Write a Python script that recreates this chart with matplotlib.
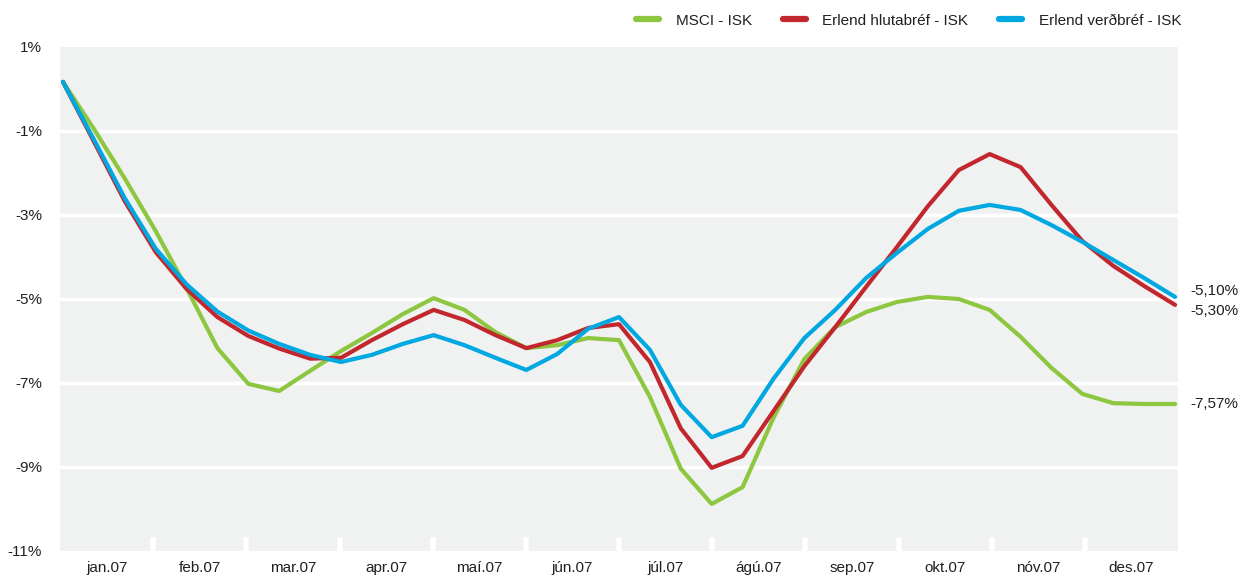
import matplotlib
matplotlib.use('Agg')
import numpy as np
import matplotlib.pyplot as plt

# time in months from start of year, every third of a month
months = np.arange(37) / 3.0

msci = [0.17, -0.95, -2.13, -3.38, -4.74, -6.17, -7.02, -7.19, -6.71, -6.24,
        -5.81, -5.36, -4.98, -5.26, -5.79, -6.17, -6.10, -5.93, -5.98, -7.33,
        -9.04, -9.88, -9.48, -7.83, -6.43, -5.67, -5.31, -5.07, -4.95, -5.00,
        -5.26, -5.90, -6.64, -7.26, -7.48, -7.50, -7.50]
hlutabref = [0.17, -1.25, -2.67, -3.88, -4.76, -5.43, -5.88, -6.18, -6.42, -6.40,
             -5.98, -5.60, -5.26, -5.50, -5.86, -6.17, -5.98, -5.69, -5.60, -6.50,
             -8.08, -9.02, -8.74, -7.67, -6.60, -5.67, -4.71, -3.76, -2.79, -1.93,
             -1.55, -1.86, -2.76, -3.62, -4.21, -4.69, -5.14]
verdbref = [0.17, -1.20, -2.60, -3.80, -4.65, -5.30, -5.75, -6.07, -6.33, -6.50,
            -6.33, -6.07, -5.86, -6.10, -6.40, -6.69, -6.31, -5.71, -5.43, -6.21,
            -7.52, -8.29, -8.02, -6.90, -5.93, -5.26, -4.50, -3.90, -3.33, -2.90,
            -2.76, -2.88, -3.24, -3.64, -4.07, -4.50, -4.95]

series_names = ['MSCI - ISK', 'Erlend hlutabréf - ISK', 'Erlend verðbréf - ISK']
end_labels = ['-7,57%', '-5,30%', '-5,10%']
month_labels = ['jan.07', 'feb.07', 'mar.07', 'apr.07', 'maí.07', 'jún.07',
                'júl.07', 'ágú.07', 'sep.07', 'okt.07', 'nóv.07', 'des.07']
y_ticks = [1, -1, -3, -5, -7, -9, -11]

colors = ['#8dc63f', '#c1272d', '#00a8e1']
text_color = '#231f20'

plt.rcParams['font.family'] = ['Liberation Sans', 'DejaVu Sans']

fig = plt.figure(figsize=(12.43, 5.79), dpi=100)
ax = fig.add_axes([60 / 1243, 1 - 551 / 579, 1118 / 1243, 504 / 579])
ax.set_facecolor('#f0f1f1')

x_lo, x_hi = -0.032, 12.032
ax.set_xlim(x_lo, x_hi)
ax.set_ylim(-11, 1)

# white horizontal grid
for v in y_ticks[1:-1]:
    ax.axhline(v, color='white', linewidth=2.5, zorder=1)

# lines
for vals, col, name in zip([msci, hlutabref, verdbref], colors, series_names):
    ax.plot(months, vals, color=col, linewidth=3, label=name,
            solid_capstyle='round', solid_joinstyle='round', zorder=3)

# white month separators along the bottom
band = (x_hi - x_lo) / 12
for i in range(1, 12):
    ax.axvline(x_lo + i * band, ymin=0, ymax=11 / 504, color='white', linewidth=4, zorder=2)

for spine in ax.spines.values():
    spine.set_visible(False)

ax.set_xticks([x_lo + (i + 0.5) * band for i in range(12)])
ax.set_xticklabels(month_labels, fontsize=11)
ax.set_yticks(y_ticks)
ax.set_yticklabels(['%d%%' % v for v in y_ticks], fontsize=11)
ax.tick_params(axis='both', length=0, colors=text_color)
ax.tick_params(axis='x', pad=7)
ax.tick_params(axis='y', pad=13)

# end values on the right
end_y = [404, 311, 291]
for lab, yp in zip(end_labels, end_y):
    fig.text(1190 / 1243, 1 - yp / 579, lab, fontsize=11, color=text_color,
             ha='left', va='center')

leg = fig.legend(loc='upper right', bbox_to_anchor=(1195 / 1243, 1.0), ncol=3,
                 frameon=False, fontsize=11, handlelength=1.5, handletextpad=1.1,
                 columnspacing=2.0)
for line in leg.get_lines():
    line.set_linewidth(4.5)
for t in leg.get_texts():
    t.set_color(text_color)

fig.savefig('out.png', dpi=100)
